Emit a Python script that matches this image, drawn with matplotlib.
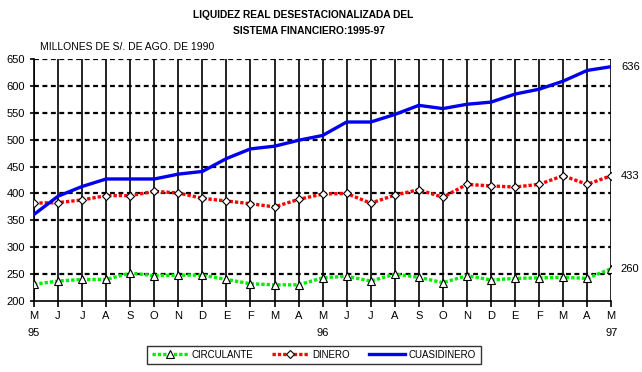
import matplotlib.pyplot as plt

plt.rcParams['font.family'] = ['Liberation Sans', 'DejaVu Sans']

meses = ["M", "J", "J", "A", "S", "O", "N", "D", "E", "F", "M", "A",
         "M", "J", "J", "A", "S", "O", "N", "D", "E", "F", "M", "A", "M"]
anios = {0: "95", 12: "96", 24: "97"}

circulante = [231, 237, 240, 240, 252, 247, 248, 248, 240, 232, 230, 230,
              243, 246, 237, 250, 244, 234, 247, 239, 242, 243, 244, 242, 260]
dinero = [382, 383, 388, 396, 396, 404, 401, 391, 386, 381, 375, 389,
          399, 400, 382, 397, 407, 393, 417, 414, 412, 417, 433, 417, 433]
cuasidinero = [361, 395, 413, 427, 427, 427, 436, 441, 465, 483, 488, 499,
               508, 533, 533, 547, 564, 558, 566, 570, 585, 594, 609, 629, 636]

x = list(range(len(meses)))

fig = plt.figure(figsize=(6.42, 3.72), dpi=100)
ax = fig.add_axes([0.053, 0.191, 0.899, 0.650])

# rejilla: verticales solidas, horizontales punteadas
for xi in x:
    ax.axvline(xi, color="black", lw=1.2, zorder=1)
for yv in range(250, 651, 50):
    ax.axhline(yv, color="black", lw=1.6, ls=(0, (2.2, 1.6)), zorder=1)

ax.plot(x, circulante, color="#00ee00", lw=2.4, ls=(0, (1, 0.6)),
        marker="^", ms=5.5, mfc="white", mec="black", mew=0.8,
        label="CIRCULANTE", zorder=3)
ax.plot(x, dinero, color="#ff0000", lw=2.4, ls=(0, (1, 0.6)),
        marker="D", ms=4.5, mfc="white", mec="black", mew=0.8,
        label="DINERO", zorder=3)
ax.plot(x, cuasidinero, color="#0000ee", lw=2.4, label="CUASIDINERO", zorder=3)

ax.set_xlim(0, len(meses) - 1)
ax.set_ylim(200, 650)
ax.set_yticks(range(200, 651, 50))
ax.tick_params(axis="y", labelsize=8, length=3, width=1.2)
ax.set_xticks(x)
labels = [m + ("\n\n" + anios[i] if i in anios else "\n\n") for i, m in enumerate(meses)]
ax.set_xticklabels(labels, fontsize=8, linespacing=0.85)
ax.tick_params(axis="x", length=4, width=1.2, pad=3)
for s in ["top", "right"]:
    ax.spines[s].set_visible(False)
for s in ["left", "bottom"]:
    ax.spines[s].set_linewidth(1.2)

# etiquetas del ultimo valor
for serie in [circulante, dinero, cuasidinero]:
    ax.annotate(str(serie[-1]), (x[-1], serie[-1]), xytext=(7, 0),
                textcoords="offset points", fontsize=8, va="center")

fig.text(0.473, 0.960, "LIQUIDEZ REAL DESESTACIONALIZADA DEL", ha="center",
         va="center", fontsize=7.4, fontweight="bold")
fig.text(0.481, 0.917, "SISTEMA FINANCIERO:1995-97", ha="center",
         va="center", fontsize=7.4, fontweight="bold")
fig.text(0.062, 0.873, "MILLONES DE S/. DE AGO. DE 1990", ha="left",
         va="center", fontsize=7.5)

leg = fig.legend(loc="center", bbox_to_anchor=(0.489, 0.046), ncol=3,
                 fontsize=7, frameon=True, fancybox=False, numpoints=1,
                 handlelength=3.7, columnspacing=1.9, borderpad=0.45,
                 handletextpad=0.45)
leg.get_frame().set_edgecolor("black")
leg.get_frame().set_linewidth(1)

fig.savefig("out.png", dpi=100)
